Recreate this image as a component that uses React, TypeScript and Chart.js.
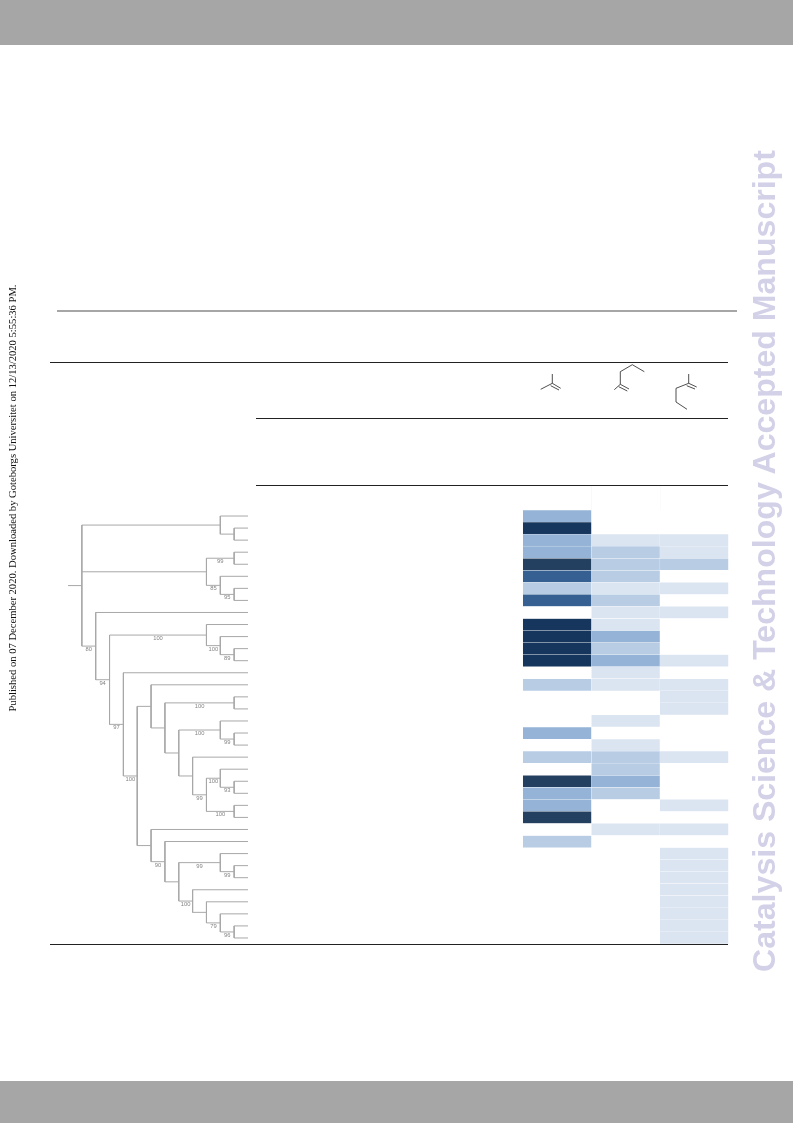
import React, { useEffect, useRef } from "react";
import { Chart, registerables } from "chart.js";

Chart.register(...registerables);

// Heat levels per row (0 = empty cell) for the three substrate columns
const columnA = [3, 6, 3, 3, 5, 4, 2, 4, 0, 6, 6, 6, 6, 0, 2, 0, 0, 0, 3, 0, 2, 0, 5, 3, 3, 5, 0, 2, 0, 0, 0, 0, 0, 0, 0, 0];
const columnB = [0, 0, 1, 2, 2, 2, 1, 2, 1, 1, 3, 2, 3, 1, 1, 0, 0, 1, 0, 1, 2, 2, 3, 2, 0, 0, 1, 0, 0, 0, 0, 0, 0, 0, 0, 0];
const columnC = [0, 0, 1, 1, 2, 0, 1, 0, 1, 0, 0, 0, 1, 0, 1, 1, 1, 0, 0, 0, 1, 0, 0, 0, 1, 0, 1, 0, 1, 1, 1, 1, 1, 1, 1, 1];
const levelColors = ["#ffffff", "#dbe5f1", "#b8cce4", "#95b3d7", "#366092", "#244061", "#17365d"];
const rowLabels = ["1", "2", "3", "4", "5", "6", "7", "8", "9", "10", "11", "12", "13", "14", "15", "16", "17", "18", "19", "20", "21", "22", "23", "24", "25", "26", "27", "28", "29", "30", "31", "32", "33", "34", "35", "36"];

// Dendrogram: [depth, bootstrap support, ...children]; a 0 child is a leaf, leaves sit in row order
type TreeNode = 0 | [number, number | null, ...TreeNode[]];
const cladeTop: TreeNode = [10, null, 0, [11, null, 0, 0]];
const cladeSecond: TreeNode = [9, null, [11, 99, 0, 0], [10, 85, 0, [11, 95, 0, 0]]];
const cladeThird: TreeNode = [9, 100, 0, [10, 100, 0, [11, 89, 0, 0]]];
const cladeFourth: TreeNode = [5, null, 0, [6, null, [11, 100, 0, 0], [7, null, [10, 100, 0, [11, 99, 0, 0]], [8, null, 0, [9, 99, [10, 100, 0, [11, 93, 0, 0]], [11, 100, 0, 0]]]]]];
const cladeFifth: TreeNode = [5, null, 0, [6, 90, 0, [7, null, [10, 99, 0, [11, 99, 0, 0]], [8, 100, 0, [9, null, 0, [10, 79, 0, [11, 96, 0, 0]]]]]]];
const treeRoot: TreeNode = [0, null, cladeTop, cladeSecond, [1, 80, 0, [2, 94, cladeThird, [3, 97, 0, [4, 100, cladeFourth, cladeFifth]]]]];
const LEAF_DEPTH = 12;

type Pt = { x: number; y: number };
type SupportLabel = { x: number; y: number; text: string };

function layoutTree(root: TreeNode) {
  const segments: Pt[] = [];
  const labels: SupportLabel[] = [];
  let nextRow = 0;
  const brk = () => segments.push({ x: NaN, y: NaN });
  const seg = (x1: number, y1: number, x2: number, y2: number) => {
    segments.push({ x: x1, y: y1 }, { x: x2, y: y2 });
    brk();
  };
  const visit = (node: TreeNode): { depth: number; y: number; support: number | null } => {
    if (node === 0) return { depth: LEAF_DEPTH, y: nextRow++, support: null };
    const [depth, support, ...children] = node;
    const placed = children.map(visit);
    const y = (placed[0].y + placed[placed.length - 1].y) / 2;
    seg(depth, placed[0].y, depth, placed[placed.length - 1].y);
    placed.forEach((c) => {
      seg(depth, c.y, c.depth, c.y);
      if (c.support !== null) labels.push({ x: (depth + c.depth) / 2, y: c.y, text: String(c.support) });
    });
    return { depth, y, support };
  };
  const top = visit(root);
  seg(-1, top.y, top.depth, top.y);
  return { segments, labels };
}

const pageText: React.CSSProperties = { position: "absolute", whiteSpace: "nowrap" };

function Rule({ x, y, w, h, c }: { x: number; y: number; w: number; h: number; c: string }) {
  return <div style={{ position: "absolute", left: x, top: y, width: w, height: h, background: c }} />;
}

export default function App() {
  const ref = useRef<HTMLCanvasElement>(null);
  useEffect(() => {
    const { segments, labels } = layoutTree(treeRoot);
    const heat = (values: number[], col: number) => ({
      type: "bar" as const,
      label: "col" + col,
      indexAxis: "y" as const,
      xAxisID: "xHeat",
      yAxisID: "yCat",
      data: values.map((v) => (v > 0 ? [col, col + 1] : null)),
      backgroundColor: values.map((v) => levelColors[v]),
      borderColor: "rgba(255,255,255,0.3)",
      borderWidth: 0.5,
      barPercentage: 1,
      categoryPercentage: 1,
      grouped: false,
    });
    const supportPlugin = {
      id: "supportLabels",
      afterDatasetsDraw(chart: any) {
        const { ctx, scales } = chart;
        ctx.save();
        ctx.font = '5.8px "Liberation Sans", sans-serif';
        ctx.fillStyle = "#858585";
        ctx.textAlign = "center";
        ctx.textBaseline = "middle";
        labels.forEach((l) => {
          ctx.fillText(l.text, scales.xTree.getPixelForValue(l.x), scales.yRow.getPixelForValue(l.y) + 3.5);
        });
        ctx.restore();
      },
    };
    const chart = new Chart(ref.current!, {
      type: "bar",
      data: {
        labels: rowLabels,
        datasets: [
          heat(columnA, 0),
          heat(columnB, 1),
          heat(columnC, 2),
          {
            type: "line",
            label: "tree",
            xAxisID: "xTree",
            yAxisID: "yRow",
            data: segments,
            borderColor: "#a8a8a8",
            borderWidth: 1,
            pointRadius: 0,
            spanGaps: false,
            tension: 0,
            clip: false,
          },
        ] as any,
      },
      options: {
        animation: false,
        responsive: false,
        devicePixelRatio: 1,
        layout: { padding: 0 },
        plugins: { legend: { display: false }, tooltip: { enabled: false } },
        events: [],
        scales: {
          xHeat: { type: "linear", display: false, offset: false, min: -6.642, max: 3.008 },
          xTree: { type: "linear", display: false, offset: false, min: -1, max: 46.74 },
          yCat: { type: "category", display: false, offset: true },
          yRow: { type: "linear", display: false, offset: false, min: -0.5, max: 35.5, reverse: true },
        },
      } as any,
      plugins: [supportPlugin],
    });
    return () => chart.destroy();
  }, []);

  return (
    <div style={{ position: "absolute", left: 0, top: 0, width: 793, height: 1123, overflow: "hidden", background: "#fff" }}>
      <Rule x={0} y={0} w={793} h={45} c="#a6a6a6" />
      <Rule x={0} y={1081} w={793} h={42} c="#a6a6a6" />
      <Rule x={57} y={310} w={680} h={2} c="#a6a6a6" />
      <Rule x={50} y={362} w={678} h={1} c="#222" />
      <Rule x={256} y={418} w={472} h={1} c="#222" />
      <Rule x={256} y={485} w={472} h={1} c="#222" />
      <Rule x={50} y={944} w={678} h={1} c="#222" />
      <Rule x={591} y={486} w={1} h={24} c="#f9f9f9" />
      <Rule x={660} y={486} w={1} h={24} c="#fbfbfb" />
      <canvas ref={ref} width={661} height={434} style={{ position: "absolute", left: 68, top: 510, width: 661, height: 434 }} />
      <svg width={793} height={1123} style={{ position: "absolute", left: 0, top: 0 }} fill="none" stroke="#222" strokeWidth={0.8}>
        <path d="M552.3 374V383.3L540.7 389.3M552.3 383.3L560.7 388.3M550.7 385.7L559 390" />
        <path d="M644.3 371.7L632.3 364.7L620.3 371.7V384.3L614.3 389.7M620.3 384.3L629 389M618.7 386.7L627.3 391" />
        <path d="M688.7 374V383.3L676 388.3V402L687 409.3M688.7 383.3L696.7 387M686.7 385.7L695 389" />
      </svg>
      <div
        style={{
          ...pageText,
          left: 763.5,
          top: 561,
          transform: "translate(-50%,-50%) rotate(-90deg)",
          font: 'bold 32.1px "Liberation Sans", sans-serif',
          color: "#d3d1e8",
        }}
      >
        Catalysis Science &amp; Technology Accepted Manuscript
      </div>
      <div
        style={{
          ...pageText,
          left: 11.5,
          top: 498,
          transform: "translate(-50%,-50%) rotate(-90deg)",
          font: '10.6px "Liberation Serif", serif',
          color: "#111",
        }}
      >
        Published on 07 December 2020. Downloaded by Goteborgs Universitet on 12/13/2020 5:55:36 PM.
      </div>
    </div>
  );
}
